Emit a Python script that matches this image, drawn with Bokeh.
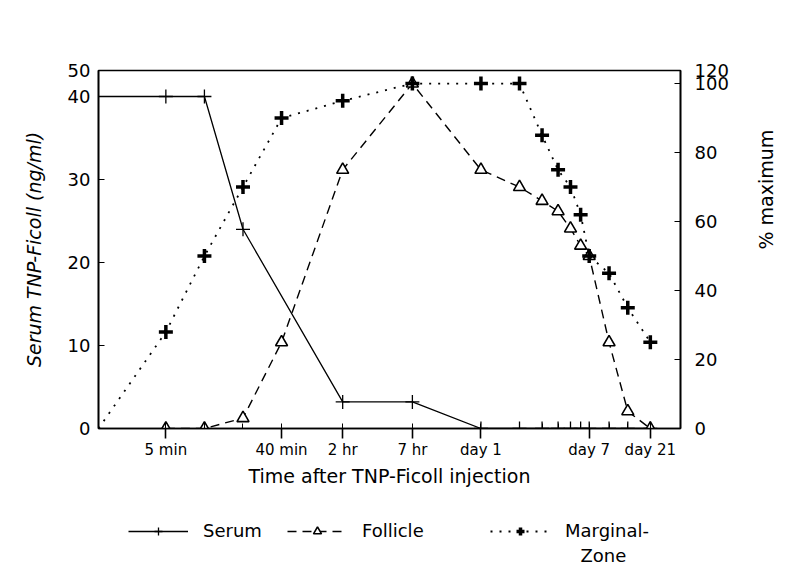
import math
from bokeh.plotting import figure
from bokeh.layouts import column
from bokeh.models import (Range1d, LinearAxis, FixedTicker, Legend, LegendItem, Label,
                          ColumnDataSource, CDSView, IndexFilter)
from bokeh.embed import file_html
from bokeh.resources import INLINE

# ---- data (time in minutes; first point of serum / marginal zone = time zero at axis origin)
T0 = 1.49
serum_t = [T0, 5, 10, 20, 120, 420, 1440, 2880, 4320, 5760, 7200, 8640, 10080, 14400, 20160, 30240]
serum_v = [40, 40, 40, 24, 3.2, 3.2, 0, 0, 0, 0, 0, 0, 0, 0, 0, 0]
foll_t = [5, 10, 20, 40, 120, 420, 1440, 2880, 4320, 5760, 7200, 8640, 10080, 14400, 20160, 30240]
foll_v = [0, 0, 3, 25, 75, 100, 75, 70, 66, 63, 58, 53, 50, 25, 5, 0]
mz_t = [T0, 5, 10, 20, 40, 120, 420, 1440, 2880, 4320, 5760, 7200, 8640, 10080, 14400, 20160, 30240]
mz_v = [0, 28, 50, 70, 90, 95, 100, 100, 100, 85, 75, 70, 62, 50, 45, 35, 25]

x_ticks = [5, 40, 120, 420, 1440, 10080, 30240]
x_labels = ["5 min", "40 min", "2 hr", "7 hr", "day 1", "day 7", "day 21"]
left_ticks = [0, 10, 20, 30, 40]
left_top, left_top_label = 43.13, "50"
right_ticks = [0, 20, 40, 60, 80, 100]
right_top, right_top_label = 103.8, "120"
legend_labels = ["Serum", "Follicle", "Marginal-", "Zone"]

FONT = "DejaVu Sans"

p = figure(width=791, height=490, x_axis_type="log",
           x_range=Range1d(T0, 52000), y_range=Range1d(0, left_top),
           output_backend="svg", toolbar_location=None,
           min_border_left=98, min_border_right=111, min_border_top=70, min_border_bottom=62)
p.extra_y_ranges = {"pct": Range1d(0, right_top)}
p.grid.visible = False
p.outline_line_color = "black"
p.outline_line_width = 1.6
p.background_fill_color = "white"
p.border_fill_color = "white"

# x axis
xa = p.xaxis[0]
xa.ticker = FixedTicker(ticks=x_ticks, minor_ticks=sorted(set(serum_t + foll_t + mz_t)))
xa.major_label_overrides = {t: l for t, l in zip(x_ticks, x_labels)}
xa.axis_label = "Time after TNP-Ficoll injection"
xa.axis_label_text_font = FONT
xa.axis_label_text_font_size = "19px"
xa.axis_label_text_font_style = "normal"
xa.axis_label_text_color = "black"
xa.axis_label_standoff = 3
xa.major_label_text_font = FONT
xa.major_label_text_font_size = "15px"
xa.major_label_text_color = "black"
xa.major_label_standoff = 2
xa.major_tick_out = 10
xa.major_tick_in = 0
xa.minor_tick_in = 5
xa.minor_tick_out = 0
xa.axis_line_width = 1.6
xa.major_tick_line_width = 1.6

# left axis
ya = p.yaxis[0]
ya.ticker = FixedTicker(ticks=left_ticks + [left_top], minor_ticks=[])
ya.major_label_overrides = {left_top: left_top_label}
ya.axis_label = "Serum TNP-Ficoll (ng/ml)"
ya.axis_label_text_font = FONT
ya.axis_label_text_font_size = "19px"
ya.axis_label_text_font_style = "italic"
ya.axis_label_text_color = "black"
ya.axis_label_standoff = 20
ya.major_label_text_font = FONT
ya.major_label_text_font_size = "18px"
ya.major_label_text_color = "black"
ya.major_label_standoff = 8
ya.major_tick_in = 6
ya.major_tick_out = 0
ya.axis_line_width = 1.6

# right axis
ra = LinearAxis(y_range_name="pct")
ra.ticker = FixedTicker(ticks=right_ticks + [right_top], minor_ticks=[])
ra.major_label_overrides = {right_top: right_top_label}
ra.axis_label = "% maximum"
ra.axis_label_text_font = FONT
ra.axis_label_text_font_size = "19px"
ra.axis_label_text_font_style = "normal"
ra.axis_label_text_color = "black"
ra.axis_label_standoff = 34
ra.major_label_text_font = FONT
ra.major_label_text_font_size = "18px"
ra.major_label_text_color = "black"
ra.major_label_standoff = 14
ra.major_tick_in = 6
ra.major_tick_out = 0
ra.axis_line_width = 1.6
ra.axis_label_orientation = math.pi / 2
p.add_layout(ra, "right")

# series styles
S_STYLE = dict(line_color="black", line_width=1.3)
S_MARK = dict(marker="cross", size=14, line_color="black", line_width=1.3)
F_STYLE = dict(line_color="black", line_width=1.4, line_dash="9 6")
F_MARK = dict(marker="triangle", size=12, fill_color="white", line_color="black", line_width=1.6)
M_STYLE = dict(line_color="black", line_width=1.8, line_dash="2 7")
M_MARK = dict(marker="cross", size=14, line_color="black", line_width=3.5)

s_src = ColumnDataSource(dict(t=serum_t, v=serum_v))
f_src = ColumnDataSource(dict(t=foll_t, v=foll_v))
m_src = ColumnDataSource(dict(t=mz_t, v=mz_v))

p.line("t", "v", source=s_src, **S_STYLE)
p.scatter("t", "v", source=s_src, view=CDSView(filter=IndexFilter(list(range(1, len(serum_t))))), **S_MARK)
p.line("t", "v", source=f_src, y_range_name="pct", **F_STYLE)
p.scatter("t", "v", source=f_src, y_range_name="pct", **F_MARK)
p.line("t", "v", source=m_src, y_range_name="pct", **M_STYLE)
p.scatter("t", "v", source=m_src, y_range_name="pct",
          view=CDSView(filter=IndexFilter(list(range(1, len(mz_t))))), **M_MARK)

# ---- legend strip (separate figure below; its frame is aligned with the main frame, 98..680)
q = figure(width=791, height=80, x_range=Range1d(98, 680), y_range=Range1d(0, 80),
           output_backend="svg", toolbar_location=None, x_axis_location=None, y_axis_location=None,
           min_border=0)
q.grid.visible = False
q.outline_line_color = None
q.background_fill_color = "white"
q.border_fill_color = "white"

NAN = [float("nan")]
lg_r = [
    [q.line(x=NAN, y=NAN, **S_STYLE), q.scatter(x=NAN, y=NAN, **S_MARK)],
    [q.line(x=NAN, y=NAN, **F_STYLE), q.scatter(x=NAN, y=NAN, **F_MARK)],
    [q.line(x=NAN, y=NAN, **M_STYLE), q.scatter(x=NAN, y=NAN, **M_MARK)],
]
lg_x = [30, 189, 392]
for lab, rs, lx in zip(legend_labels[:3], lg_r, lg_x):
    lg = Legend(items=[LegendItem(label=lab, renderers=rs)], location=(lx, 29),
                glyph_width=60, glyph_height=20, label_standoff=15, padding=0, margin=0,
                border_line_alpha=0, background_fill_alpha=0, label_text_font=FONT,
                label_text_font_size="18px", label_text_color="black")
    q.add_layout(lg, "center")
q.add_layout(Label(x=580, y=15, text=legend_labels[3], text_font=FONT, text_font_size="18px",
                   text_color="black", text_baseline="middle", text_align="left"))

layout = column(p, q, spacing=0)
open("out.html", "w").write(file_html(layout, INLINE))
